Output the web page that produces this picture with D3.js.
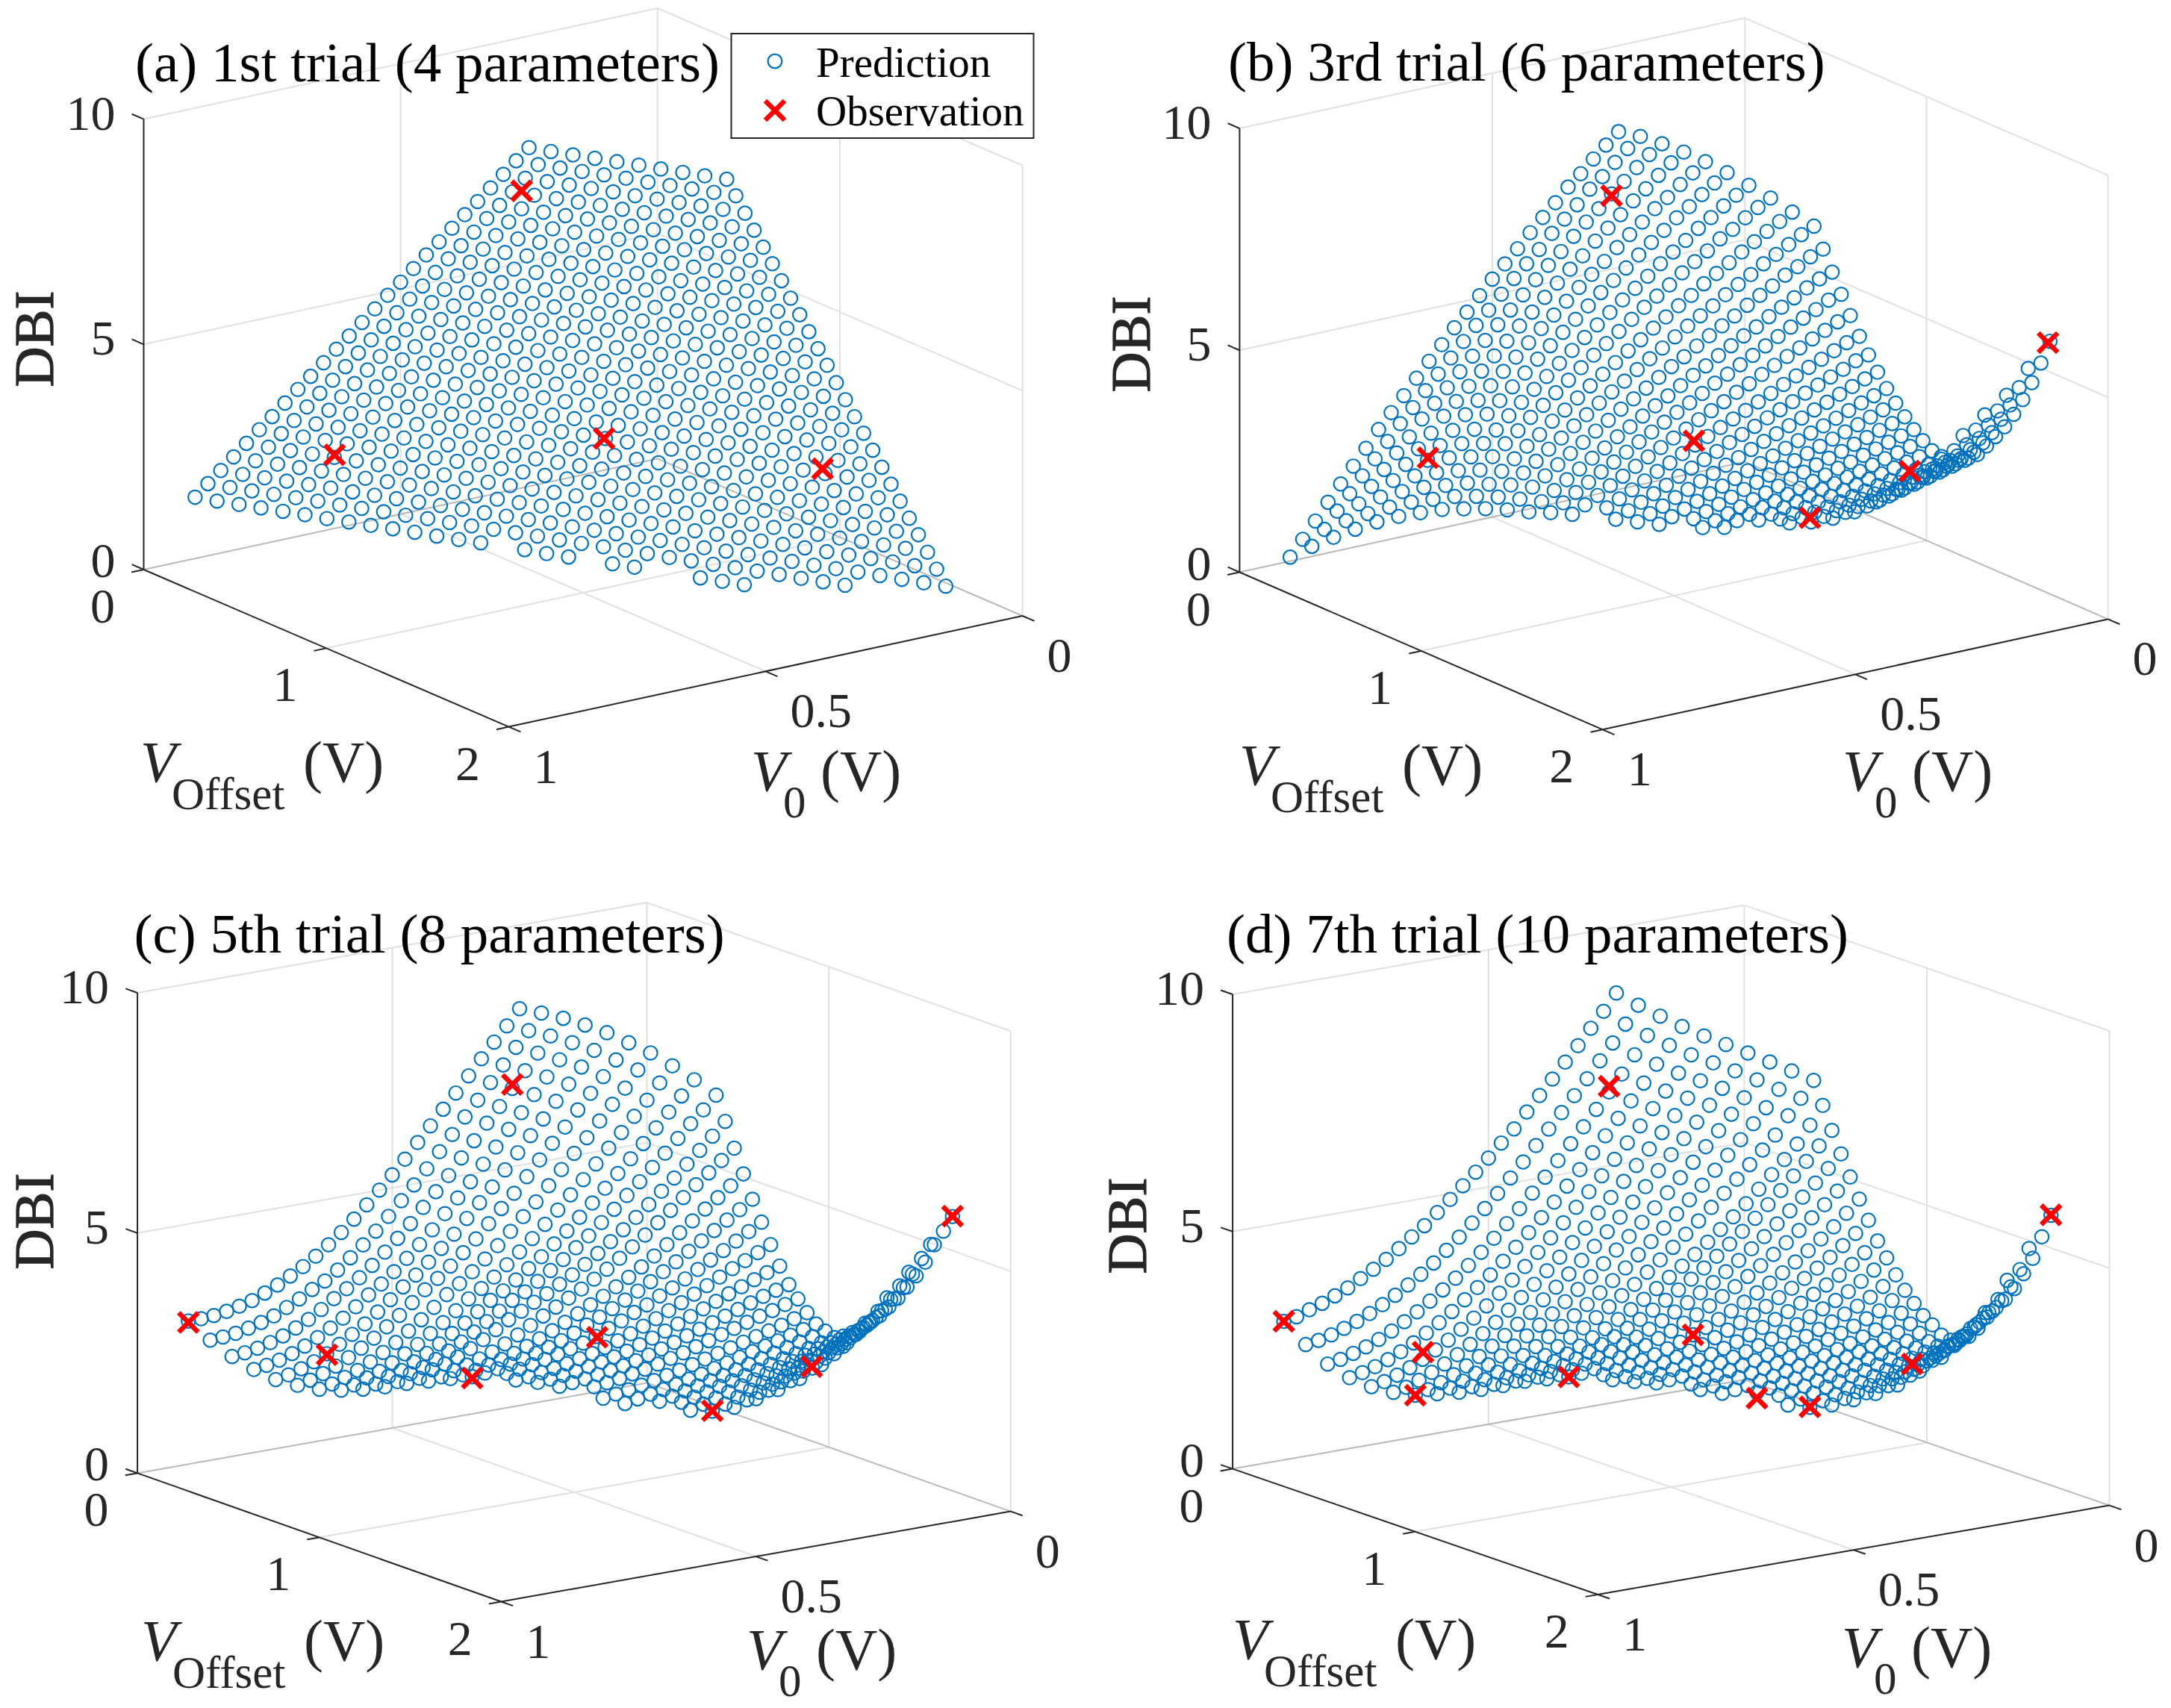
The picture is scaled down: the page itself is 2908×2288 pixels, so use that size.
<!DOCTYPE html>
<html><head><meta charset="utf-8">
<script src="https://cdn.jsdelivr.net/npm/d3@7"></script>
<style>html,body{margin:0;background:#fff}svg{display:block}text{font-family:"Liberation Serif",serif}</style>
</head><body><svg id="c" width="2908" height="2288"></svg>
<script>
// DBI values x100, one inner list per V_Offset column (0, 0.05, 0.10 ...),
// each running over V0 lattice rows upward from row index 4; null = no marker.
const dbiA=[
[136,160,183,207,231,255,278,302,326,349,373,397,420,444,468,492,515,539,563,586,610,634,657,681,705,729,752],
[130,154,177,201,225,249,272,296,320,343,367,391,414,438,462,486,509,533,557,580,604,628,651,675,699,723,746],
[125,149,172,196,220,244,267,291,315,338,362,386,409,433,457,481,504,528,552,575,599,623,646,670,694,718,741],
[120,144,167,191,215,239,262,286,310,333,357,381,404,428,452,476,499,523,547,570,594,618,641,665,689,713,736],
[115,139,162,186,210,234,257,281,305,328,352,376,399,423,447,471,494,518,542,565,589,613,636,660,684,708,731],
[110,134,157,181,205,229,252,276,300,323,347,371,394,418,442,466,489,513,537,560,584,608,631,655,679,703,726],
[104,128,151,175,199,223,246,270,294,317,341,365,388,412,436,460,483,507,531,554,578,602,625,649,673,697,720],
[99,123,146,170,194,218,241,265,289,312,336,360,383,407,431,455,478,502,526,549,573,597,620,644,668,692,715],
[94,118,141,165,189,213,236,260,284,307,331,355,378,402,426,450,473,497,521,544,568,592,615,639,663,687,710],
[89,113,136,160,184,208,231,255,279,302,326,350,373,397,421,445,468,492,516,539,563,587,610,634,658,682,705],
[84,108,131,155,179,203,226,250,274,297,321,345,368,392,416,440,463,487,511,534,558,582,605,629,653,677],
[78,102,125,149,173,197,220,244,268,291,315,339,362,386,410,434,457,481,505,528,552,576,599,623,647],
[73,97,120,144,168,192,215,239,263,286,310,334,357,381,405,429,452,476,500,523,547,571,594,618],
[68,92,115,139,163,187,210,234,258,281,305,329,352,376,400,424,447,471,495,518,542,566,589],
[null,87,110,134,158,182,205,229,253,276,300,324,347,371,395,419,442,466,490,513,537,561],
[58,82,105,129,153,177,200,224,248,271,295,319,342,366,390,414,437,461,485,508,532],
[52,76,99,123,147,171,194,218,242,265,289,313,336,360,384,408,431,455,479,502],
[47,71,94,118,142,166,189,213,237,260,284,308,331,355,379,403,426,450,474],
[null,66,89,113,137,161,184,208,232,255,279,303,326,350,374,398,421,445],
[37,61,84,108,132,156,179,203,227,250,274,298,321,345,369,393,416],
[32,56,79,103,127,151,174,198,222,245,269,293,316,340,364,388],
[null,50,73,97,121,145,168,192,216,239,263,287,310,334,358],
[null,45,68,92,116,140,163,187,211,234,258,282,305,329],
[16,40,63,87,111,135,158,182,206,229,253,277,300],
[11,35,58,82,106,130,153,177,201,224,248,272],
[6,30,53,77,101,125,148,172,196,219,243],
[null,25,48,72,96,120,143,167,191,214],
[null,19,42,66,90,114,137,161,185],
[null,14,37,61,85,109,132,156],
[null,9,32,56,80,104,127],
[null,null,27,51,75,99],
[null,null,21,45,69],
[null,null,16,40],
[null,null,11]];
const dbiB=[
[9,43,78,114,149,183,217,253,285,317,350,382,413,445,474,505,536,564,592,622,650,677,706,730,757,782,806],
[36,68,103,136,170,202,235,269,299,331,362,392,423,453,481,511,540,567,593,623,649,675,704,726,752,777,798],
[59,90,122,155,187,218,248,282,311,340,370,399,428,457,484,512,540,566,591,619,645,669,696,718,743,766,784],
[80,109,140,171,201,230,259,291,318,346,374,402,429,457,482,509,535,560,584,611,634,658,683,704,728,750,768],
[99,126,155,184,213,240,268,297,323,350,376,402,428,454,478,503,528,551,574,599,622,644,668,687,710,730,749],
[114,140,167,194,221,247,273,301,325,350,375,400,424,448,471,495,519,540,562,585,607,628,650,669,690,710,727],
[125,149,174,201,226,250,274,300,324,347,370,393,416,439,461,483,505,525,546,568,588,608,629,647,667,685,701],
[135,158,182,205,229,252,275,299,320,342,364,386,408,428,449,470,491,510,529,550,569,587,608,623,643,660,675],
[139,161,182,205,227,249,269,293,312,333,354,374,394,414,433,453,472,491,508,528,545,563,581,598,615,631,646],
[142,162,183,204,224,245,264,285,304,324,343,361,381,399,417,436,454,471,487,506,523,539,557,572,588,604,617],
[142,160,181,200,219,238,257,276,294,313,330,348,366,384,400,418,435,451,467,485,501,516,534,547,563,574],
[140,157,176,194,212,230,247,266,282,300,317,333,350,367,382,399,415,431,445,462,477,492,508,522,531],
[141,157,174,191,208,224,240,257,273,289,305,320,335,352,366,381,396,411,426,441,455,468,483,490],
[140,155,170,186,201,217,232,247,262,276,291,305,319,334,347,362,376,390,403,417,430,443,451],
[null,151,165,179,193,208,221,236,249,262,276,289,302,315,328,342,355,368,380,393,405,413],
[134,147,160,173,186,200,212,225,237,251,263,275,288,300,312,325,337,349,360,373,380],
[131,143,154,167,179,191,203,215,226,238,250,261,273,284,296,307,319,330,341,350],
[128,139,150,161,172,183,194,205,215,226,237,248,259,269,280,291,302,312,322],
[null,137,147,157,167,178,188,198,208,218,228,238,248,258,268,279,289,298],
[126,135,145,154,164,173,182,192,201,211,220,229,239,248,258,267,276],
[129,138,146,155,163,172,180,189,197,206,214,223,231,240,248,256],
[null,142,149,157,164,172,180,187,195,202,210,218,225,233,240],
[null,147,153,160,166,173,180,186,193,199,206,213,219,226],
[147,153,159,164,170,176,182,188,193,199,205,210,216],
[152,158,165,171,178,184,190,197,203,209,216,222],
[163,170,177,183,190,197,204,211,218,224,231],
[180,187,194,202,209,216,223,231,238,245],
[205,212,219,226,234,241,248,255,262],
[235,243,251,259,267,274,282,290],
[270,278,287,295,303,312,320],
[315,322,329,337,344,351],
[365,371,376,383,388],
[414,417,424,430],
[461,472,477],
[524,530],
[588]];
const dbiC=[
[298,298,300,304,310,317,328,340,354,369,386,405,426,449,474,500,527,555,585,615,645,674,705,736,766,795,826],
[260,262,265,271,278,287,300,313,328,341,359,380,402,426,452,480,508,537,568,599,631,661,693,725,757,787,819],
[228,231,236,243,252,264,277,293,311,327,345,366,389,413,439,468,496,525,557,588,620,650,683,715,747,778,810],
[203,207,213,222,233,246,261,277,296,316,334,355,378,402,428,457,485,514,546,577,609,639,672,704,735,766,798],
[184,189,197,207,219,234,250,267,287,308,330,350,372,396,421,449,477,505,536,567,598,628,660,691,722,752,784],
[174,180,189,200,213,228,244,263,282,304,326,345,366,389,413,440,467,494,524,554,584,613,644,674,704,734,765],
[168,174,183,193,206,221,237,256,275,296,318,336,356,378,401,426,452,478,507,536,565,593,623,653,682,715,746],
[168,174,184,193,206,220,235,253,271,291,311,328,347,368,390,413,438,463,490,517,545,573,601,630,659,690,721],
[172,178,189,197,210,223,238,255,272,291,310,325,343,362,382,404,426,450,475,501,527,553,580,608,636,665,694],
[179,185,197,205,217,230,244,260,277,294,312,325,342,360,378,398,418,441,464,488,512,537,562,588,614,638,664],
[188,194,207,214,224,237,251,267,283,296,310,323,338,353,370,388,408,428,449,471,494,517,541,565,590,616],
[195,199,207,214,222,232,244,258,273,288,302,316,330,346,362,380,399,419,440,461,483,505,525,546,567],
[202,205,210,216,223,231,241,252,264,277,290,304,317,332,347,364,382,401,421,441,461,480,500,520],
[208,211,215,220,226,233,241,250,261,273,285,298,311,325,340,356,372,389,406,423,440,457,474],
[null,212,216,221,227,233,240,247,256,268,279,292,303,317,329,343,358,373,388,403,418,433],
[205,207,211,215,220,226,232,240,249,259,270,281,293,305,318,331,344,357,369,381,393],
[202,204,207,211,216,221,227,234,243,252,262,272,283,294,305,316,326,336,346,355],
[196,199,202,206,210,215,221,228,236,245,254,263,272,281,290,299,308,316,323],
[null,192,196,200,205,210,216,223,230,238,246,254,262,270,278,285,293,300],
[175,179,183,188,193,199,205,212,219,226,233,240,247,254,261,270,278],
[166,171,176,181,187,193,199,206,213,220,227,234,240,247,254,261],
[null,168,174,180,186,192,198,205,212,219,226,233,240,246,253],
[null,168,174,180,187,194,200,207,214,221,227,233,240,246],
[158,166,174,182,190,198,206,214,222,230,239,247,256],
[158,168,178,188,198,208,218,229,239,249,260,270],
[168,179,190,202,214,226,238,250,262,274,285],
[188,201,214,227,240,253,266,279,292,305],
[209,223,238,252,267,281,296,310,325],
[234,251,267,284,300,317,333,350],
[265,283,301,320,338,357,375],
[305,325,345,365,385,405],
[355,375,395,415,435],
[410,430,450,470],
[465,489,513],
[525,548],
[585]];
const dbiD=[
[292,297,307,316,327,339,354,369,385,403,423,442,465,488,512,536,561,588,613,644,674,704,735,765,797,828,862],
[245,249,256,265,275,287,301,316,333,351,370,392,415,440,466,493,521,550,580,610,640,671,702,735,768,803,838],
[206,211,219,228,239,252,267,283,301,320,340,362,385,410,436,463,491,520,550,581,612,644,676,709,745,781,817],
[179,185,193,203,215,229,245,262,281,301,322,344,368,393,419,446,474,503,533,564,595,627,659,692,727,762,797],
[162,168,177,188,201,216,232,250,269,290,312,335,359,384,410,437,465,493,522,552,582,613,645,677,710,744,779],
[152,158,168,180,193,208,225,243,262,283,305,328,352,376,402,428,455,483,512,541,571,601,632,664,696,729,763],
[148,155,165,177,191,206,223,241,260,280,302,324,347,371,396,422,448,475,503,532,561,590,620,651,682,714,747],
[153,160,170,182,195,209,225,242,260,279,300,321,343,366,390,414,439,465,492,519,547,575,604,634,664,697,730],
[158,165,175,186,198,212,226,242,259,277,296,316,337,359,382,405,429,454,479,505,532,559,587,616,645,679,713],
[166,172,181,191,202,214,228,243,258,275,293,312,331,352,373,395,418,441,465,490,515,541,567,594,630,662,695],
[176,181,189,198,208,219,231,244,258,273,289,306,324,343,362,382,403,425,447,470,496,522,549,577,612,649],
[187,191,198,206,215,225,236,248,261,275,290,306,323,341,360,380,401,423,446,470,495,521,547,575,603],
[194,198,204,211,219,228,238,249,261,274,288,303,319,336,354,373,393,414,436,459,483,508,534,560],
[200,203,208,214,221,229,238,248,259,271,284,298,313,329,346,364,383,403,424,446,469,493,518],
[null,202,206,212,218,225,233,242,253,264,276,289,303,318,334,351,369,388,408,429,453,478],
[198,200,204,209,215,222,230,239,249,260,271,283,296,310,325,341,358,376,396,417,440],
[196,198,202,207,212,218,225,233,242,252,263,275,287,300,314,329,345,363,383,403],
[195,197,200,204,209,214,221,228,236,245,255,266,278,290,303,317,334,353,374],
[null,190,194,199,204,210,216,223,231,239,248,258,269,281,293,307,325,345],
[185,188,192,196,201,206,212,219,226,234,243,252,262,273,285,302,319],
[179,182,186,191,196,202,208,214,221,229,237,246,256,267,282,298],
[null,178,183,188,193,199,205,212,219,226,234,243,253,266,279],
[null,174,179,184,190,196,203,210,217,224,232,241,253,266],
[160,168,176,184,191,198,205,212,219,226,233,242,251],
[157,166,174,183,191,199,207,215,223,231,239,247],
[164,173,182,191,200,209,218,227,236,245,253],
[177,187,197,207,217,227,237,247,258,268],
[192,204,217,229,242,254,267,279,292],
[212,228,243,259,275,290,306,322],
[243,261,278,296,314,331,349],
[274,294,314,334,353,373],
[320,340,361,381,402],
[372,395,417,440],
[442,460,479],
[511,531],
[583]];
const obsA_v0=[0.3,0.735,0.3525,0.105], obsA_off=[0.1,0.3,0.7,1.2], obsA_z=[6.86,2.42,2.54,2.13];
const obsB_v0=[0.3,0.735,0.3525,0.3025,0.105,0.029], obsB_off=[0.1,0.3,0.7,1.2,1.2,1.75], obsB_z=[6.92,2.45,2.59,1.62,2.18,5.86];
const obsC_v0=[0.3,0.735,0.3475,0.3,0.105,0.025,0.9,0.575], obsC_off=[0.1,0.3,0.7,1.2,1.2,1.75,0,0.65], obsC_z=[6.91,2.37,2.54,1.59,2.14,5.86,2.95,2.05];
const obsD_v0=[0.3,0.9,0.735,0.75,0.575,0.35,0.35,0.3,0.1,0.025], obsD_off=[0.1,0,0.3,0.3,0.65,0.7,1.05,1.2,1.2,1.75], obsD_z=[6.88,2.92,2.36,1.48,2.0,2.53,1.66,1.58,2.11,5.84];
const offsetTicks=[0,1,2], v0Ticks=[1,0.5,0], dbiTicks=[0,5,10];
const v0TickText=["1","0.5","0"];
const titles=["(a) 1st trial (4 parameters)","(b) 3rd trial (6 parameters)","(c) 5th trial (8 parameters)","(d) 7th trial (10 parameters)"];
const legendNames=["Prediction","Observation"];

const panels=[
 {dbi:dbiA,ov:obsA_v0,oo:obsA_off,oz:obsA_z,L:[192.5,763],F:[681.5,973.6],R:[1369.6,825],top:159.6,tx:181,ty:109,off:[188,1047],v:[1006,1059],dbiPos:[71,454]},
 {dbi:dbiB,ov:obsB_v0,oo:obsB_off,oz:obsB_z,L:[1660.4,766.5],F:[2146.7,977.3],R:[2823.6,829.4],top:172,tx:1645,ty:108,off:[1660,1051],v:[2468,1059],dbiPos:[1539.5,461]},
 {dbi:dbiC,ov:obsC_v0,oo:obsC_off,oz:obsC_z,L:[184.1,1973.4],F:[671.3,2145.5],R:[1353.8,2024.6],top:1330,tx:179.5,ty:1276,off:[189,2224],v:[1000,2236],dbiPos:[71,1636]},
 {dbi:dbiD,ov:obsD_v0,oo:obsD_off,oz:obsD_z,L:[1651.1,1967.6],F:[2140.2,2136],R:[2825.5,2016.6],top:1332,tx:1643,ty:1276,off:[1651,2222],v:[2467,2233],dbiPos:[1535,1642]}
];
const BLUE="#0072BD",RED="#ff0000",INK="#262626",GRID="#e0e0e0",EDGE="#b9b9b9";
const tOff=d3.scaleLinear().domain([0,2]).range([0,1]);
const tV0=d3.scaleLinear().domain([1,0]).range([0,1]);
const svg=d3.select("#c");
const xPath=s=>`M${-s},${-s}L${s},${s}M${-s},${s}L${s},${-s}`;

panels.forEach((p,pi)=>{
  const zPix=d3.scaleLinear().domain([0,10]).range([0,p.L[1]-p.top]);
  const proj=(v0,off,z)=>{
    const a=tOff(off),b=tV0(v0);
    return [p.L[0]+a*(p.F[0]-p.L[0])+b*(p.R[0]-p.F[0]),
            p.L[1]+a*(p.F[1]-p.L[1])+b*(p.R[1]-p.F[1])-zPix(z)];
  };
  const g=svg.append("g");
  const seg=(A,B,c,w)=>g.append("line").attr("x1",A[0]).attr("y1",A[1]).attr("x2",B[0]).attr("y2",B[1]).attr("stroke",c).attr("stroke-width",w);
  // back walls and floor grid
  dbiTicks.filter(z=>z>0).forEach(z=>{seg(proj(1,0,z),proj(0,0,z),GRID,2);seg(proj(0,0,z),proj(0,2,z),GRID,2);});
  seg(proj(0.5,0,0),proj(0.5,0,10),GRID,2);
  seg(proj(0,1,0),proj(0,1,10),GRID,2);
  seg(proj(0,0,0),proj(0,0,10),GRID,2);
  seg(proj(0,2,0),proj(0,2,10),GRID,2);
  seg(proj(0.5,0,0),proj(0.5,2,0),GRID,2);
  seg(proj(1,1,0),proj(0,1,0),GRID,2);
  seg(proj(1,0,0),proj(0,0,0),EDGE,2);
  seg(proj(0,0,0),proj(0,2,0),EDGE,2);
  // axes and ticks
  seg(proj(1,0,0),proj(1,0,10),INK,2);
  seg(proj(1,0,0),proj(1,2,0),INK,2);
  seg(proj(1,2,0),proj(0,2,0),INK,2);
  dbiTicks.forEach(z=>seg(proj(1,0,z),proj(1,-0.065,z),INK,2));
  offsetTicks.forEach(o=>seg(proj(1,o,0),proj(1.024,o,0),INK,2));
  v0Ticks.forEach(v=>seg(proj(v,2,0),proj(v,2.065,0),INK,2));
  // tick labels
  const lab=(x,y,t,anchor,size,col)=>g.append("text").attr("x",x).attr("y",y).attr("text-anchor",anchor).attr("font-size",size).attr("fill",col).text(t);
  dbiTicks.forEach(z=>{const q=proj(1,0,z);lab(q[0]-38,q[1]-(z===0?12:8)+22,String(z),"end",66,INK);});
  offsetTicks.forEach(o=>{const q=proj(1,o,0);lab(q[0]-55,q[1]+49+22,String(o),"middle",66,INK);});
  v0Ticks.forEach((v,k)=>{const q=proj(v,2,0);lab(q[0]+33,q[1]+53+22,v0TickText[k],"start",66,INK);});
  // axis titles
  lab(p.off[0],p.off[1],"V","start",78,INK).attr("font-style","italic");
  lab(p.off[0]+42,p.off[1]+37,"Offset","start",61,INK);
  lab(p.off[0]+218,p.off[1],"(V)","start",78,INK);
  lab(p.v[0],p.v[1],"V","start",78,INK).attr("font-style","italic");
  lab(p.v[0]+43,p.v[1]+36,"0","start",61,INK);
  lab(p.v[0]+93,p.v[1],"(V)","start",78,INK);
  g.append("text").attr("transform",`translate(${p.dbiPos[0]},${p.dbiPos[1]}) rotate(-90)`).attr("text-anchor","middle").attr("font-size",75).attr("fill",INK).attr("stroke",INK).attr("stroke-width",1.2).text("DBI");
  lab(p.tx,p.ty,titles[pi],"start",75,"#000");
  // prediction lattice
  const pts=p.dbi.flatMap((col,j)=>col.map((z,n)=>z===null?null:{off:j*0.05,v0:1-(4+n+j)*0.025,z:z/100})).filter(Boolean);
  g.append("g").selectAll("circle").data(pts).join("circle")
   .attr("cx",d=>proj(d.v0,d.off,d.z)[0]).attr("cy",d=>proj(d.v0,d.off,d.z)[1])
   .attr("r",9.2).attr("fill","none").attr("stroke",BLUE).attr("stroke-width",2.2);
  // observations
  const obs=p.ov.map((v,k)=>({v0:v,off:p.oo[k],z:p.oz[k]}));
  g.append("g").selectAll("path").data(obs).join("path")
   .attr("transform",d=>{const q=proj(d.v0,d.off,d.z);return `translate(${q[0]},${q[1]})`;})
   .attr("d",xPath(13)).attr("fill","none").attr("stroke",RED).attr("stroke-width",6.5);
});
// legend in panel (a)
const lg=svg.append("g");
lg.append("rect").attr("x",979.5).attr("y",45).attr("width",405).attr("height",140).attr("fill","#fff").attr("stroke",INK).attr("stroke-width",2);
lg.append("circle").attr("cx",1038).attr("cy",82).attr("r",9.4).attr("fill","none").attr("stroke",BLUE).attr("stroke-width",2.2);
lg.append("path").attr("transform","translate(1038,148)").attr("d",xPath(13)).attr("fill","none").attr("stroke",RED).attr("stroke-width",6.5);
legendNames.forEach((t,k)=>lg.append("text").attr("x",1093).attr("y",k?168:102.7).attr("font-size",57).attr("fill","#000").text(t));
</script></body></html>
